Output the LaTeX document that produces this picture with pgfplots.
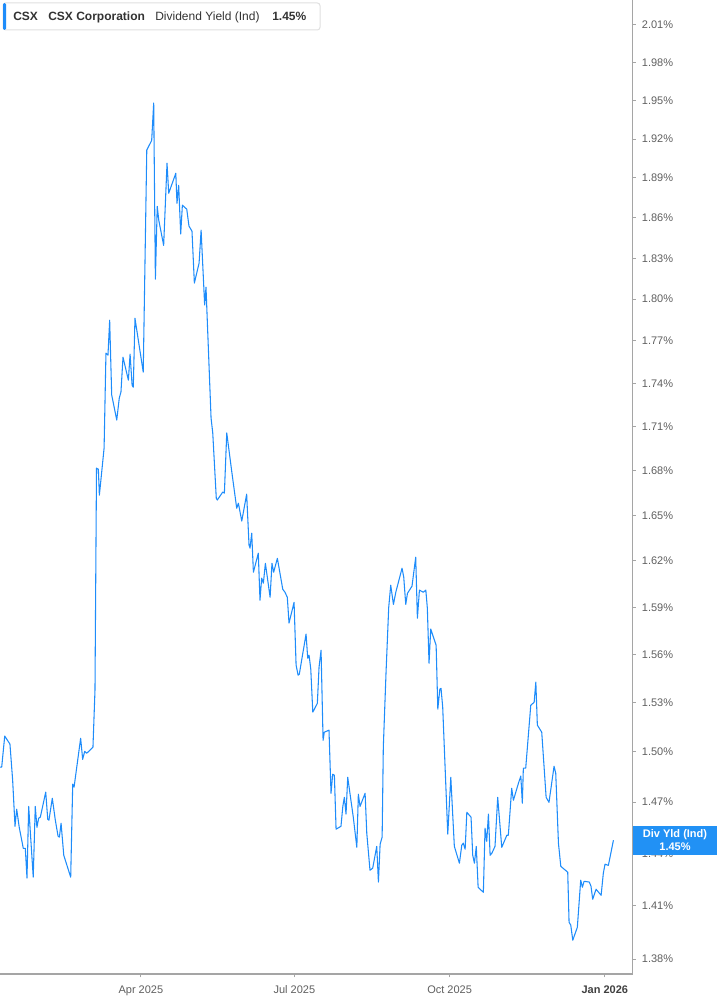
\documentclass[border=0pt]{standalone}
\usepackage{pgfplots}
\usepackage{pgfplotstable}
\pgfplotsset{compat=1.18}
\usepackage{fontspec}
\setmainfont{Liberation Sans}

\definecolor{csxblue}{RGB}{30,140,250}
\definecolor{boxblue}{RGB}{33,145,245}
\definecolor{axisgray}{RGB}{165,165,165}
\definecolor{labelgray}{RGB}{95,95,95}

% day = days since 1 Jan 2025, yield in %
\pgfplotstableread{
day yield
6.5 1.4908
7.5 1.4908
9.3 1.5096
12.4 1.5047
14.0 1.4830
15.4 1.4558
16.4 1.4658
17.9 1.4552
20.3 1.4429
21.5 1.4429
22.5 1.4257
23.5 1.4675
26.2 1.4262
27.4 1.4675
28.4 1.4552
29.4 1.4605
30.4 1.4611
33.6 1.4759
34.8 1.4599
35.5 1.4593
37.5 1.4723
39.3 1.4593
40.9 1.4500
41.7 1.4494
42.7 1.4576
44.3 1.4389
48.4 1.4262
49.6 1.4807
50.4 1.4789
54.3 1.5083
55.5 1.4956
56.7 1.5004
57.9 1.4992
61.6 1.5029
62.8 1.5378
63.7 1.6816
64.8 1.6809
65.4 1.6634
68.2 1.6952
69.3 1.7613
70.5 1.7599
71.5 1.7849
72.7 1.7318
75.7 1.7145
77.2 1.7297
78.2 1.7339
79.4 1.7585
82.6 1.7423
83.6 1.7606
84.8 1.7388
85.5 1.7374
86.5 1.7863
91.4 1.7479
93.5 1.9113
96.4 1.9190
97.6 1.9479
98.6 1.8146
99.7 1.8687
100.6 1.8582
103.5 1.8396
105.5 1.9014
106.5 1.8785
110.7 1.8937
111.4 1.8710
112.4 1.8846
113.6 1.8478
114.6 1.8695
117.2 1.8665
118.5 1.8538
120.3 1.8500
121.7 1.8117
124.5 1.8263
125.7 1.8508
127.8 1.7957
128.6 1.8088
131.6 1.7158
132.6 1.7055
134.7 1.6614
135.3 1.6601
138.5 1.6654
139.5 1.6648
140.9 1.7055
143.9 1.6789
146.8 1.6547
147.8 1.6580
149.8 1.6461
152.7 1.6641
154.1 1.6303
154.7 1.6283
155.7 1.6382
156.7 1.6126
159.6 1.6250
160.6 1.5945
161.6 1.6087
162.6 1.6055
163.8 1.6184
166.6 1.5964
167.7 1.6184
168.7 1.6126
170.9 1.6217
174.1 1.6016
175.4 1.5997
176.8 1.5964
177.8 1.5799
180.8 1.5932
182.0 1.5533
183.2 1.5471
183.9 1.5477
187.9 1.5729
188.9 1.5577
189.7 1.5596
190.7 1.5509
191.9 1.5242
194.6 1.5297
195.6 1.5521
196.8 1.5627
198.0 1.5071
198.7 1.5120
201.5 1.5132
202.7 1.4753
203.7 1.4866
204.7 1.4860
205.7 1.4541
208.6 1.4558
209.7 1.4675
210.6 1.4729
211.6 1.4629
212.6 1.4848
215.9 1.4611
218.0 1.4435
218.9 1.4747
219.9 1.4675
222.9 1.4753
223.9 1.4517
225.8 1.4302
227.4 1.4314
229.8 1.4441
230.8 1.4234
231.8 1.4453
233.0 1.4494
233.7 1.5029
235.3 1.5484
236.9 1.5900
238.1 1.6042
239.7 1.5919
241.1 1.5997
244.8 1.6152
245.8 1.6094
247.0 1.5919
248.0 1.5990
250.7 1.6036
252.9 1.6224
253.9 1.5830
255.1 1.6010
257.4 1.5997
258.9 1.6010
259.8 1.5894
260.8 1.5546
261.8 1.5761
265.0 1.5659
266.0 1.5260
267.2 1.5384
267.9 1.5390
268.9 1.5273
271.9 1.4511
273.7 1.4848
275.8 1.4441
278.8 1.4343
280.2 1.4447
281.1 1.4459
282.2 1.4424
283.2 1.4640
285.7 1.4611
286.7 1.4389
287.7 1.4343
288.8 1.4441
289.9 1.4205
293.0 1.4176
294.0 1.4546
295.0 1.4470
296.0 1.4629
297.0 1.4389
298.0 1.4400
299.9 1.4441
301.5 1.4729
303.9 1.4435
306.9 1.4505
307.8 1.4505
309.8 1.4783
310.8 1.4711
313.8 1.4813
315.2 1.4855
316.1 1.4693
316.7 1.4902
318.1 1.4902
321.1 1.5285
323.1 1.5303
324.1 1.5428
325.0 1.5163
327.6 1.5120
330.2 1.4729
331.9 1.4699
334.9 1.4914
335.9 1.4872
337.5 1.4459
338.9 1.4325
343.0 1.4291
343.8 1.4006
344.8 1.3990
346.0 1.3905
348.7 1.3978
350.7 1.4245
351.7 1.4205
352.7 1.4239
355.8 1.4234
356.8 1.4211
357.8 1.4136
359.8 1.4193
362.8 1.4159
364.1 1.4285
365.1 1.4337
367.1 1.4331
370.1 1.4476
}\divyield

\begin{document}
\begin{tikzpicture}
\useasboundingbox (0pt,0pt) rectangle (537.75pt,753.75pt);

\begin{axis}[
    at={(0pt,23.25pt)}, anchor=south west,
    scale only axis,
    width=474.375pt, height=730.5pt,
    xmin=6.5, xmax=381.4,
    ymode=log, ymin=1.3717, ymax=2.0303,
    axis x line*=bottom, axis y line*=right,
    axis line style={axisgray, line width=0.9pt},
    xtick={90,181,273,365},
    xticklabels={Apr 2025, Jul 2025, Oct 2025, \textbf{\color{black!75}Jan 2026}},
    ytick={1.38,1.41,1.44,1.47,1.50,1.53,1.56,1.59,1.62,1.65,1.68,1.71,1.74,1.77,1.80,1.83,1.86,1.89,1.92,1.95,1.98,2.01},
    yticklabels={1.38\%,1.41\%,1.44\%,1.47\%,1.50\%,1.53\%,1.56\%,1.59\%,1.62\%,1.65\%,1.68\%,1.71\%,1.74\%,1.77\%,1.80\%,1.83\%,1.86\%,1.89\%,1.92\%,1.95\%,1.98\%,2.01\%},
    minor tick num=0,
    tick align=outside,
    major tick length=2.5pt,
    tick style={axisgray, line width=0.7pt},
    ticklabel style={font=\fontsize{8.25}{10}\selectfont, text=labelgray},
    yticklabel style={anchor=west, xshift=1pt},
    xticklabel style={yshift=-2.5pt},
]
\addplot[csxblue, line width=0.8pt, line join=round] table[x=day, y=yield]{\divyield};
\end{axis}

% header box
\draw[black!12, line width=0.75pt, fill=white, rounded corners=2pt] (2.25pt,731.25pt) rectangle (240pt,751.5pt);
\fill[csxblue, rounded corners=1pt] (2.25pt,731.25pt) rectangle (4.5pt,751.5pt);
\node[anchor=base west, inner sep=0, font=\bfseries\fontsize{9}{11}\selectfont, text=black!80] at (9.75pt,738pt) {CSX};
\node[anchor=base west, inner sep=0, font=\bfseries\fontsize{9}{11}\selectfont, text=black!80] at (36pt,738pt) {CSX Corporation};
\node[anchor=base west, inner sep=0, font=\fontsize{9}{11}\selectfont, text=black!80] at (116.25pt,738pt) {Dividend Yield (Ind)};
\node[anchor=base west, inner sep=0, font=\bfseries\fontsize{9}{11}\selectfont, text=black!80] at (204pt,738pt) {1.45\%};

% last value marker
\fill[boxblue] (474.75pt,112.5pt) rectangle (537.75pt,134.25pt);
\node[align=center, inner sep=0, text=white, font=\bfseries\fontsize{8.25}{9.75}\selectfont] at (506.25pt,123.4pt) {Div Yld (Ind)\\1.45\%};
\end{tikzpicture}
\end{document}
